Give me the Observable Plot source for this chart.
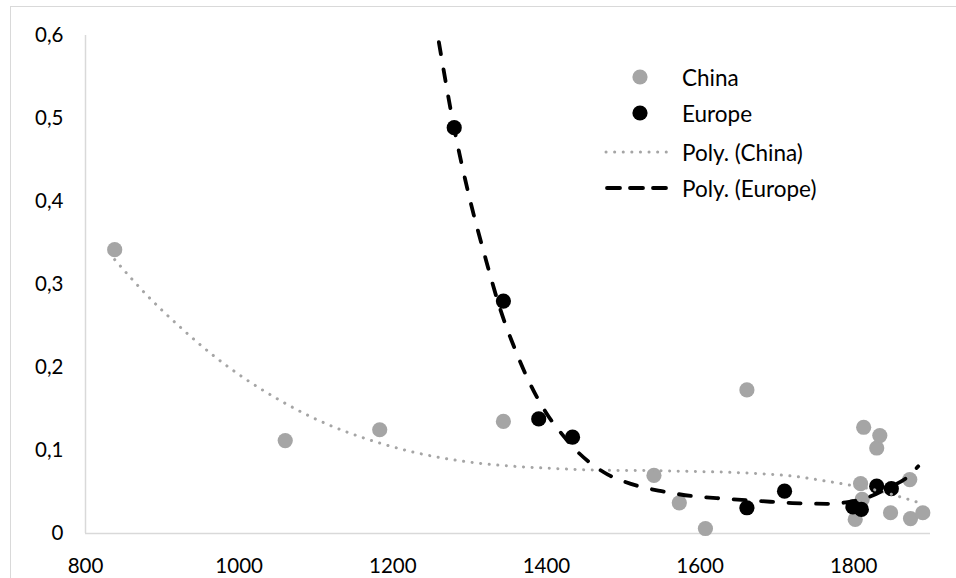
<!DOCTYPE html>
<html>
<head>
<meta charset="utf-8">
<script src="https://cdn.jsdelivr.net/npm/d3@7"></script>
<script src="https://cdn.jsdelivr.net/npm/@observablehq/plot@0.6"></script>
<style>
  html, body { margin: 0; padding: 0; background: #fff; overflow: hidden; width: 956px; height: 578px; }
  #wrap { position: relative; width: 956px; height: 578px; }
  #border { position: absolute; left: 10px; top: 6px; width: 980px; height: 600px; border: 1px solid #d9d9d9; box-sizing: border-box; }
  #chart { position: absolute; left: 0; top: 0; }
  #legend { position: absolute; left: 0; top: 0; font-family: Lato, "Open Sans", sans-serif; font-size: 22.5px; color: #000; }
  .row { position: absolute; left: 600px; height: 30px; display: flex; align-items: center; }
  .row svg { width: 72px; height: 30px; }
  .row span { margin-left: 10px; white-space: nowrap; }
</style>
</head>
<body>
<div id="wrap">
  <div id="border"></div>
  <div id="chart"></div>
  <div id="legend"></div>
</div>
<script>
// China observations
const chinaYear  = [838, 1060, 1183, 1344, 1540, 1573, 1607, 1661, 1802, 1809, 1811, 1813, 1830, 1834, 1848, 1873, 1874, 1890];
const chinaValue = [0.342, 0.112, 0.125, 0.135, 0.070, 0.037, 0.006, 0.173, 0.017, 0.060, 0.041, 0.128, 0.103, 0.118, 0.025, 0.065, 0.018, 0.025];

// Europe observations
const europeYear  = [1280, 1344, 1390, 1434, 1661, 1710, 1799, 1810, 1830, 1849];
const europeValue = [0.489, 0.280, 0.138, 0.116, 0.031, 0.051, 0.032, 0.029, 0.057, 0.054];

// Poly. (China) trend line
const chinaTrendYear  = [838, 880, 924, 967, 1010, 1054, 1097, 1141, 1183, 1227, 1271, 1314, 1357, 1401, 1444, 1488, 1531, 1592, 1635, 1679, 1722, 1765, 1791, 1830, 1861, 1889];
const chinaTrendValue = [0.330, 0.287, 0.248, 0.214, 0.185, 0.160, 0.139, 0.122, 0.109, 0.098, 0.090, 0.0845, 0.081, 0.0787, 0.077, 0.076, 0.0758, 0.0747, 0.0738, 0.072, 0.069, 0.063, 0.059, 0.052, 0.044, 0.036];

// Poly. (Europe) trend line
const europeTrendYear  = [1260, 1280, 1300, 1320, 1340, 1360, 1380, 1400, 1420, 1440, 1460, 1480, 1500, 1520, 1550, 1590, 1635, 1680, 1720, 1765, 1790, 1820, 1845, 1870, 1884];
const europeTrendValue = [0.592, 0.488, 0.404, 0.334, 0.270, 0.220, 0.178, 0.145, 0.120, 0.099, 0.083, 0.071, 0.063, 0.057, 0.051, 0.045, 0.0418, 0.039, 0.0367, 0.0358, 0.0375, 0.044, 0.055, 0.068, 0.081];

// Axis ticks
const xTicks = [800, 1000, 1200, 1400, 1600, 1800];
const yTicks = [0, 0.1, 0.2, 0.3, 0.4, 0.5, 0.6];

const legendLabels = ["China", "Europe", "Poly. (China)", "Poly. (Europe)"];

const gray = "#a5a5a5";
const china = chinaYear.map((x, i) => ({x, y: chinaValue[i]}));
const europe = europeYear.map((x, i) => ({x, y: europeValue[i]}));
const chinaTrend = chinaTrendYear.map((x, i) => ({x, y: chinaTrendValue[i]}));
const europeTrend = europeTrendYear.map((x, i) => ({x, y: europeTrendValue[i]}));

const chart = Plot.plot({
  width: 956,
  height: 578,
  marginLeft: 85,
  marginRight: 26,
  marginTop: 35,
  marginBottom: 45,
  style: { fontFamily: "Lato, 'Open Sans', sans-serif", fontSize: "20.5px", color: "#000", background: "transparent" },
  x: { domain: [800, 1900], ticks: xTicks, tickSize: 0, tickPadding: 25, label: null, tickFormat: d => String(d) },
  y: { domain: [0, 0.6], ticks: yTicks, tickSize: 0, tickPadding: 22, label: null, tickFormat: d => String(d).replace(".", ",") },
  marks: [
    Plot.ruleY([0], { stroke: "#d9d9d9", strokeWidth: 1.5 }),
    Plot.ruleX([800], { stroke: "#d9d9d9", strokeWidth: 1.5 }),
    Plot.dot(china, { x: "x", y: "y", r: 7.6, fill: gray }),
    Plot.dot(europe, { x: "x", y: "y", r: 7.6, fill: "#000" }),
    Plot.line(chinaTrend, { x: "x", y: "y", stroke: gray, strokeWidth: 3, strokeDasharray: "0.1,8.5", strokeLinecap: "round", curve: "monotone-x" }),
    Plot.line(europeTrend, { x: "x", y: "y", stroke: "#000", strokeWidth: 3.8, strokeDasharray: "12,15.5", strokeLinecap: "round", curve: "monotone-x", clip: true })
  ]
});
document.getElementById("chart").appendChild(chart);

// Legend (HTML)
const legend = document.getElementById("legend");
const rowCenters = [77, 113, 152, 188];
const swatches = [
  `<circle cx="40" cy="15" r="7.6" fill="${gray}"/>`,
  `<circle cx="40" cy="15" r="7.6" fill="#000"/>`,
  `<line x1="6" x2="68" y1="15" y2="15" stroke="${gray}" stroke-width="3" stroke-dasharray="0.1,8.5" stroke-linecap="round"/>`,
  `<line x1="7" x2="68" y1="15" y2="15" stroke="#000" stroke-width="3.8" stroke-dasharray="13,10" stroke-linecap="round"/>`
];
legendLabels.forEach((label, i) => {
  const row = document.createElement("div");
  row.className = "row";
  row.style.top = (rowCenters[i] - 15) + "px";
  row.innerHTML = `<svg viewBox="0 0 72 30">${swatches[i]}</svg><span>${label}</span>`;
  legend.appendChild(row);
});
</script>
</body>
</html>
